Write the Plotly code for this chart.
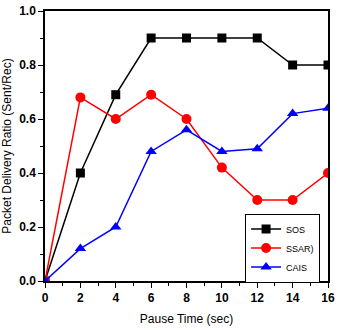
import plotly.graph_objects as go

pause_time = [0, 2, 4, 6, 8, 10, 12, 14, 16]
sos = [0.0, 0.40, 0.69, 0.90, 0.90, 0.90, 0.90, 0.80, 0.80]
ssar = [0.0, 0.68, 0.60, 0.69, 0.60, 0.42, 0.30, 0.30, 0.40]
cais = [0.0, 0.12, 0.20, 0.48, 0.56, 0.48, 0.49, 0.62, 0.64]

fig = go.Figure()
fig.add_trace(go.Scatter(x=pause_time, y=sos, name="SOS", mode="lines+markers",
                         line=dict(color="black", width=1.5),
                         marker=dict(symbol="square", size=9, color="black")))
fig.add_trace(go.Scatter(x=pause_time, y=ssar, name="SSAR)", mode="lines+markers",
                         line=dict(color="red", width=1.5),
                         marker=dict(symbol="circle", size=10, color="red")))
fig.add_trace(go.Scatter(x=pause_time, y=cais, name="CAIS", mode="lines+markers",
                         line=dict(color="blue", width=1.5),
                         marker=dict(symbol="triangle-up", size=10, color="blue")))

axis_common = dict(showline=True, linecolor="black", linewidth=1.5, mirror=True,
                   showgrid=False, zeroline=False, ticks="outside", ticklen=5,
                   tickwidth=1.2, tickcolor="black", automargin=False,
                   tickfont=dict(family="Liberation Sans", size=12, color="black", weight="bold"))

fig.update_xaxes(range=[0, 16], dtick=2,
                 minor=dict(ticks="outside", ticklen=3, dtick=1, tickcolor="black"),
                 title=dict(text="Pause Time (sec)", font=dict(family="Liberation Sans", size=12, color="black"), standoff=10),
                 **axis_common)
fig.update_yaxes(range=[0, 1.0], dtick=0.2, tickformat=".1f",
                 minor=dict(ticks="outside", ticklen=3, dtick=0.1, tickcolor="black"),
                 title=dict(text="Packet Delivery Ratio (Sent/Rec)", font=dict(family="Liberation Sans", size=12, color="black"), standoff=6),
                 **axis_common)

fig.update_layout(
    width=342, height=330,
    margin=dict(l=45, r=14, t=11, b=49),
    paper_bgcolor="white", plot_bgcolor="white",
    legend=dict(x=0.972, y=0.25, xanchor="right", yanchor="top",
                bordercolor="black", borderwidth=1, bgcolor="white",
                font=dict(family="Liberation Sans", size=9, color="black"),
                tracegroupgap=0, itemwidth=30),
    showlegend=True,
)

# drop the default body margin so the figure sits at the page corner
fig.write_html("out.html", config={"displayModeBar": False},
               post_script="document.body.style.margin='0';")
